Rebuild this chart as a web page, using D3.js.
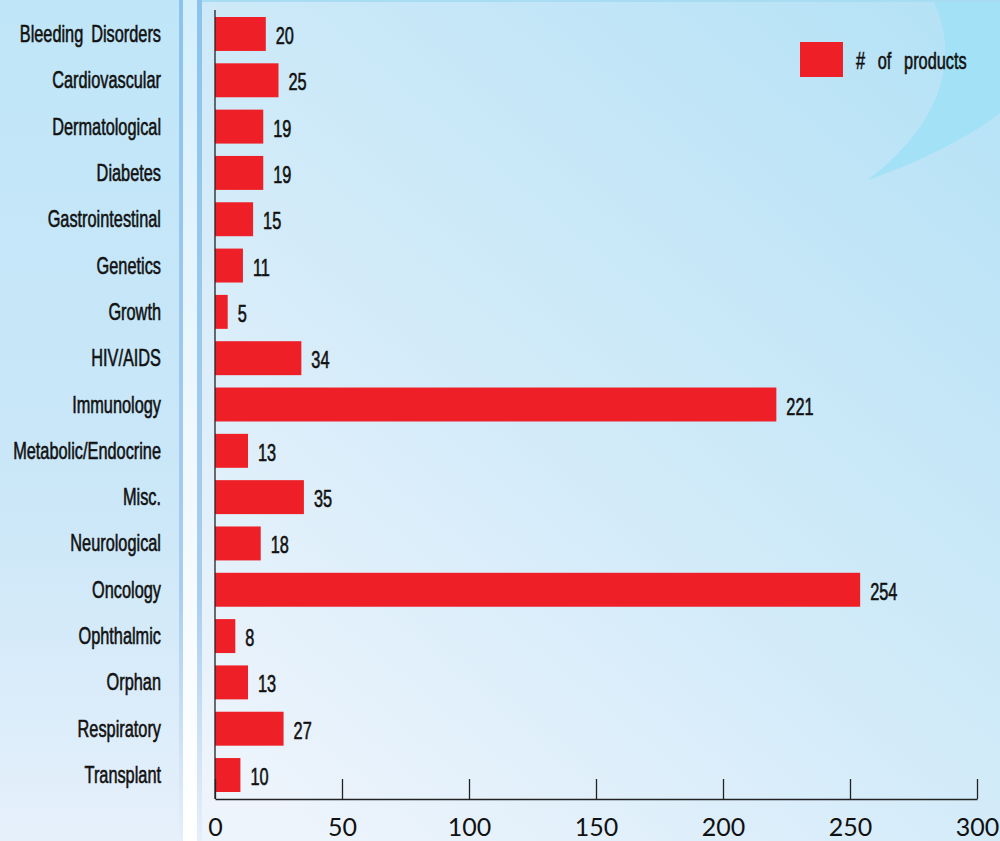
<!DOCTYPE html>
<html><head><meta charset="utf-8">
<script src="https://cdn.jsdelivr.net/npm/d3@7"></script>
<style>
html,body{margin:0;padding:0;background:#fff;}
svg{display:block;}
</style></head>
<body>
<svg id="chart" width="1000" height="841"></svg>
<script>
const categories = ["Bleeding Disorders","Cardiovascular","Dermatological","Diabetes","Gastrointestinal","Genetics","Growth","HIV/AIDS","Immunology","Metabolic/Endocrine","Misc.","Neurological","Oncology","Ophthalmic","Orphan","Respiratory","Transplant"];
const products = [20,25,19,19,15,11,5,34,221,13,35,18,254,8,13,27,10];
const xTicks = [0,50,100,150,200,250,300];
const seriesName = "# of products";

const svg = d3.select("#chart");
const defs = svg.append("defs");

const g1 = defs.append("linearGradient").attr("id","mainBg").attr("x1","0.1").attr("y1","1").attr("x2","0.9").attr("y2","0");
g1.append("stop").attr("offset","0").attr("stop-color","#eef4fc");
g1.append("stop").attr("offset","0.45").attr("stop-color","#d3ebf9");
g1.append("stop").attr("offset","1").attr("stop-color","#b6e2f6");

const g2 = defs.append("linearGradient").attr("id","leftBg").attr("x1","0").attr("y1","0").attr("x2","0").attr("y2","1");
g2.append("stop").attr("offset","0").attr("stop-color","#bfe6f8");
g2.append("stop").attr("offset","0.6").attr("stop-color","#cbe7f8");
g2.append("stop").attr("offset","1").attr("stop-color","#e6f0fb");

const g3 = defs.append("linearGradient").attr("id","stripe").attr("x1","0").attr("y1","0").attr("x2","0").attr("y2","1");
g3.append("stop").attr("offset","0").attr("stop-color","#d3effc");
g3.append("stop").attr("offset","0.5").attr("stop-color","#eef8fe");
g3.append("stop").attr("offset","1").attr("stop-color","#ffffff");

const g4 = defs.append("linearGradient").attr("id","edge").attr("x1","0").attr("y1","0").attr("x2","0").attr("y2","1");
g4.append("stop").attr("offset","0").attr("stop-color","#8cc3ec");
g4.append("stop").attr("offset","0.7").attr("stop-color","#a9cdef");
g4.append("stop").attr("offset","1").attr("stop-color","#e6effa");

// backgrounds
svg.append("rect").attr("x",0).attr("y",0).attr("width",181).attr("height",841).attr("fill","url(#leftBg)");
svg.append("rect").attr("x",180).attr("y",0).attr("width",22).attr("height",841).attr("fill","url(#stripe)");
svg.append("rect").attr("x",179).attr("y",0).attr("width",4).attr("height",841).attr("fill","url(#edge)");
svg.append("rect").attr("x",197).attr("y",0).attr("width",5).attr("height",841).attr("fill","url(#edge)");
svg.append("rect").attr("x",202).attr("y",0).attr("width",798).attr("height",841).attr("fill","url(#mainBg)");
svg.append("path").attr("d","M933,0 C962,60 940,125 868,180 C925,160 972,135 1000,113 L1000,0 Z").attr("fill","#9fe1f6").attr("opacity",0.85);
svg.append("rect").attr("x",202).attr("y",0).attr("width",798).attr("height",2).attr("fill","#a8dcf3");

const x = d3.scaleLinear().domain([0,300]).range([215,977]);
const y = d3.scaleBand().domain(categories).range([17,792]).paddingInner(0.267).paddingOuter(0);

const labelFont = "'Liberation Sans','Arimo',Arial,sans-serif";
const squeeze = 0.68;

// bars
svg.append("g").selectAll("rect").data(categories).join("rect")
  .attr("x", x(0)).attr("y", d => y(d))
  .attr("width", (d,i) => x(products[i]) - x(0))
  .attr("height", y.bandwidth())
  .attr("fill", "#ee1f26");

// value labels
svg.append("g").selectAll("text").data(categories).join("text")
  .attr("transform", (d,i) => `translate(${x(products[i]) + 10},${y(d) + y.bandwidth()/2 + 10}) scale(${squeeze},1)`)
  .attr("font-family", labelFont).attr("font-size", 24)
  .attr("fill", "#111").attr("stroke","#111").attr("stroke-width",0.6)
  .text((d,i) => products[i]);

// category labels
svg.append("g").selectAll("text").data(categories).join("text")
  .attr("transform", d => `translate(161,${y(d) + y.bandwidth()/2 + 8}) scale(${squeeze},1)`)
  .attr("text-anchor","end")
  .attr("font-family", labelFont).attr("font-size", 24)
  .attr("word-spacing", 5)
  .attr("fill", "#111").attr("stroke","#111").attr("stroke-width",0.6)
  .text(d => d);

// y axis line
svg.append("line").attr("x1",x(0)).attr("x2",x(0)).attr("y1",10).attr("y2",799)
  .attr("stroke","#222").attr("stroke-width",1.3);

// x axis
const xAxis = d3.axisBottom(x).tickValues(xTicks).tickSizeInner(-20).tickSizeOuter(0).tickPadding(19);
const ax = svg.append("g").attr("transform","translate(0,799)").call(xAxis);
ax.select(".domain").attr("stroke","#222").attr("stroke-width",1.3);
ax.selectAll(".tick line").attr("stroke","#222").attr("stroke-width",1.3);
ax.selectAll(".tick text").attr("font-family","'Lato','Open Sans',sans-serif").attr("font-size",25).attr("fill","#111");

// legend
svg.append("rect").attr("x",800).attr("y",42).attr("width",43).attr("height",35).attr("fill","#ee1f26");
svg.append("text").attr("transform","translate(856,69) scale(" + squeeze + ",1)")
  .attr("font-family",labelFont).attr("font-size",24).attr("fill","#111").attr("stroke","#111").attr("stroke-width",0.6)
  .attr("word-spacing",12).text(seriesName);
</script>
</body></html>
